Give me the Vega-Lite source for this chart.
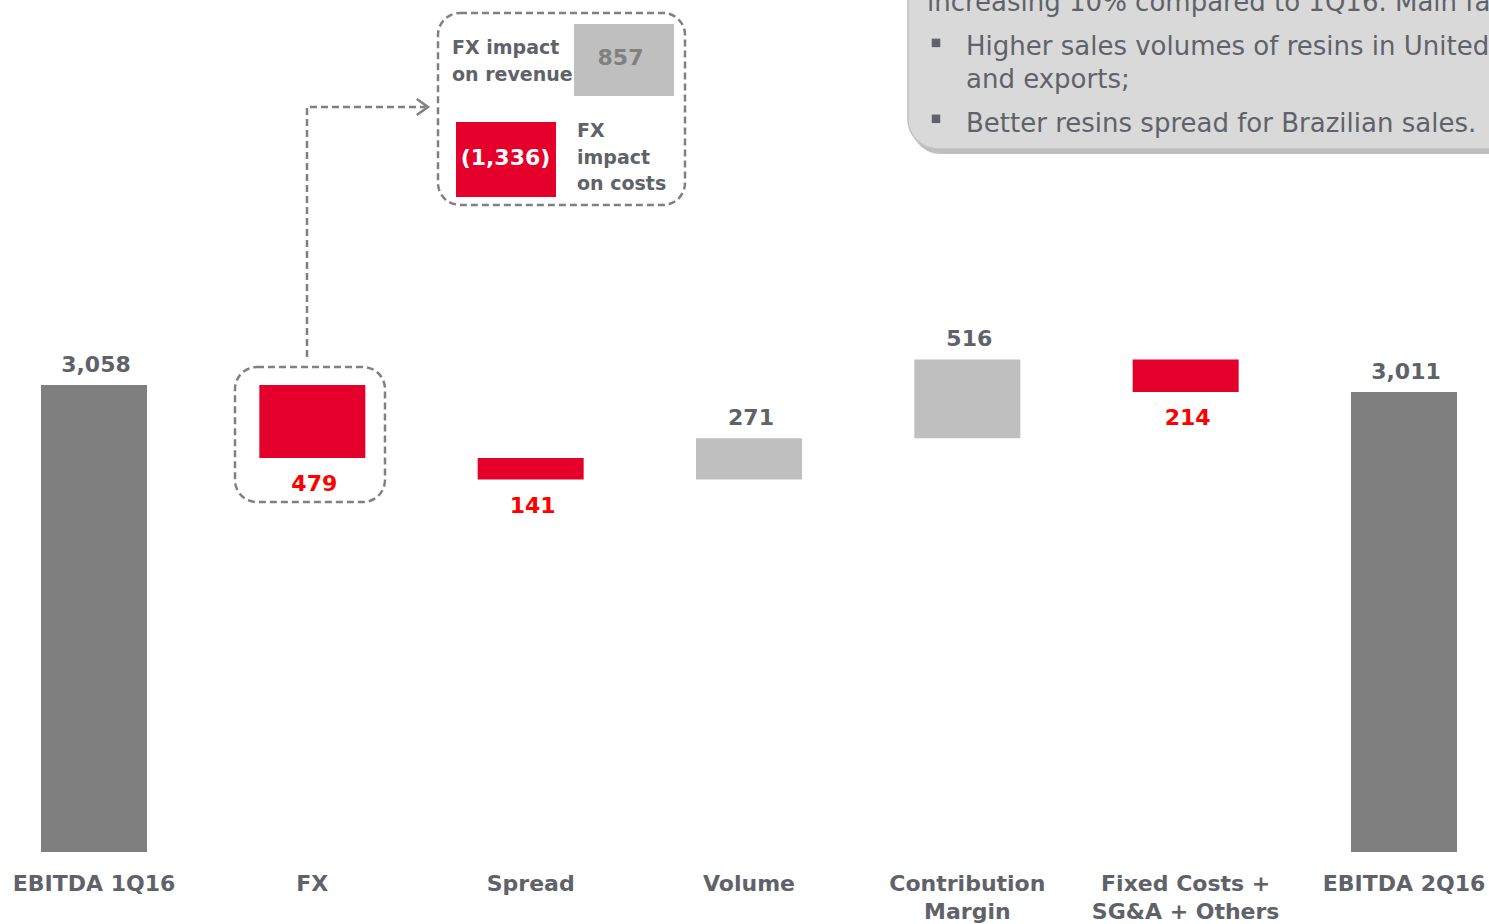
{
  "$schema": "https://vega.github.io/schema/vega-lite/v6.json",
  "width": 1489,
  "height": 852,
  "autosize": {"type": "none"},
  "padding": {"left": 0, "right": 0, "top": 0, "bottom": 72},
  "background": "white",
  "config": {"view": {"stroke": null}, "scale": {"continuousPadding": 0}},
  "datasets": {
    "bars": [
      {"i": 0, "cat": "EBITDA 1Q16", "start": 0, "end": 3058, "kind": "total", "label": "3,058"},
      {"i": 1, "cat": "FX", "start": 3058, "end": 2579, "kind": "down", "label": "479"},
      {"i": 2, "cat": "Spread", "start": 2579, "end": 2438, "kind": "down", "label": "141"},
      {"i": 3, "cat": "Volume", "start": 2438, "end": 2709, "kind": "up", "label": "271"},
      {"i": 4, "cat": "Contribution Margin", "start": 2709, "end": 3225, "kind": "up", "label": "516"},
      {"i": 5, "cat": "Fixed Costs + SG&A + Others", "start": 3225, "end": 3011, "kind": "down", "label": "214"},
      {"i": 6, "cat": "EBITDA 2Q16", "start": 0, "end": 3011, "kind": "total", "label": "3,011"}
    ],
    "cats": [
      {"i": 0, "lines": ["EBITDA 1Q16"]},
      {"i": 1, "lines": ["FX"]},
      {"i": 2, "lines": ["Spread"]},
      {"i": 3, "lines": ["Volume"]},
      {"i": 4, "lines": ["Contribution", "Margin"]},
      {"i": 5, "lines": ["Fixed Costs +", "SG&A + Others"]},
      {"i": 6, "lines": ["EBITDA 2Q16"]}
    ],
    "boxes": [
      {"role": "shadow", "x": 3.742, "x2": 7.5, "y": 4570, "y2": 6500},
      {"role": "note", "x": 3.728, "x2": 7.5, "y": 4603, "y2": 6500},
      {"role": "dashed", "x": 1.5756, "x2": 2.7069, "y": 4236, "y2": 5493},
      {"role": "dashed", "x": 0.6458, "x2": 1.3328, "y": 2291, "y2": 3175},
      {"role": "revenue", "x": 2.1985, "x2": 2.6565, "y": 4950, "y2": 5421},
      {"role": "costs", "x": 1.658, "x2": 2.116, "y": 4288, "y2": 4779}
    ],
    "connector": [
      {"o": 1, "x": 0.9756, "y": 3241},
      {"o": 2, "x": 0.9756, "y": 4878},
      {"o": 3, "x": 1.516, "y": 4878}
    ],
    "arrow": [{"x": 1.5298, "y": 4878}],
    "texts": [
      {"role": "callout", "x": 1.6397, "y": 5264, "text": "FX impact"},
      {"role": "callout", "x": 1.6397, "y": 5087, "text": "on revenue"},
      {"role": "callout", "x": 2.2122, "y": 4720, "text": "FX"},
      {"role": "callout", "x": 2.2122, "y": 4544, "text": "impact"},
      {"role": "callout", "x": 2.2122, "y": 4373, "text": "on costs"},
      {"role": "rev", "x": 2.4115, "y": 5198, "text": "857"},
      {"role": "cost", "x": 1.8847, "y": 4544, "text": "(1,336)"},
      {"role": "note", "x": 3.8153, "y": 5506, "text": "increasing 10% compared to 1Q16. Main factors:"},
      {"role": "note", "x": 3.9939, "y": 5218, "text": "Higher sales volumes of resins in United States"},
      {"role": "note", "x": 3.9939, "y": 5002, "text": "and exports;"},
      {"role": "note", "x": 3.9939, "y": 4714, "text": "Better resins spread for Brazilian sales."}
    ],
    "bullets": [
      {"x": 3.8565, "y": 5297},
      {"x": 3.8565, "y": 4800}
    ]
  },
  "layer": [
    {
      "data": {"name": "boxes"},
      "transform": [{"filter": "datum.role == 'shadow'"}],
      "mark": {"type": "rect", "fill": "#a8a8a8", "opacity": 0.75, "cornerRadius": 30},
      "encoding": {
        "x": {"field": "x", "type": "quantitative", "scale": {"domain": [-0.43053, 6.3893], "nice": false, "zero": false, "padding": 0}, "axis": null},
        "x2": {"field": "x2"},
        "y": {"field": "y", "type": "quantitative", "scale": {"domain": [0, 5578], "nice": false, "zero": false}, "axis": null},
        "y2": {"field": "y2"}
      }
    },
    {
      "data": {"name": "boxes"},
      "transform": [{"filter": "datum.role == 'note'"}],
      "mark": {"type": "rect", "fill": "#d9d9d9", "stroke": "#c2c2c2", "strokeWidth": 1.5, "cornerRadius": 30},
      "encoding": {
        "x": {"field": "x", "type": "quantitative", "scale": {"domain": [-0.43053, 6.3893], "nice": false, "zero": false, "padding": 0}, "axis": null},
        "x2": {"field": "x2"},
        "y": {"field": "y", "type": "quantitative", "scale": {"domain": [0, 5578], "nice": false, "zero": false}, "axis": null},
        "y2": {"field": "y2"}
      }
    },
    {
      "data": {"name": "bars"},
      "mark": {"type": "bar", "width": 106},
      "encoding": {
        "x": {"field": "i", "type": "quantitative", "scale": {"domain": [-0.43053, 6.3893], "nice": false, "zero": false, "padding": 0}, "axis": null},
        "y": {"field": "start", "type": "quantitative", "scale": {"domain": [0, 5578], "nice": false, "zero": false}, "axis": null},
        "y2": {"field": "end"},
        "color": {
          "field": "kind", "type": "nominal",
          "scale": {"domain": ["total", "up", "down"], "range": ["#7f7f7f", "#bfbfbf", "#e4002b"]},
          "legend": null
        }
      }
    },
    {
      "data": {"name": "cats"},
      "mark": {"type": "text", "font": "DejaVu Sans", "fontSize": 22, "fontWeight": "bold", "color": "#5f6369", "align": "center", "baseline": "top", "dy": 22, "lineHeight": 28},
      "encoding": {
        "x": {"field": "i", "type": "quantitative", "scale": {"domain": [-0.43053, 6.3893], "nice": false, "zero": false, "padding": 0}, "axis": null},
        "y": {"datum": 0, "type": "quantitative", "scale": {"domain": [0, 5578], "nice": false, "zero": false}, "axis": null},
        "text": {"field": "lines"}
      }
    },
    {
      "data": {"name": "boxes"},
      "transform": [{"filter": "datum.role == 'dashed'"}],
      "mark": {"type": "rect", "filled": false, "stroke": "#808080", "strokeWidth": 2.5, "strokeDash": [7, 4], "cornerRadius": 22},
      "encoding": {
        "x": {"field": "x", "type": "quantitative", "scale": {"domain": [-0.43053, 6.3893], "nice": false, "zero": false, "padding": 0}, "axis": null},
        "x2": {"field": "x2"},
        "y": {"field": "y", "type": "quantitative", "scale": {"domain": [0, 5578], "nice": false, "zero": false}, "axis": null},
        "y2": {"field": "y2"}
      }
    },
    {
      "data": {"name": "boxes"},
      "transform": [{"filter": "datum.role == 'revenue'"}],
      "mark": {"type": "rect", "fill": "#bfbfbf"},
      "encoding": {
        "x": {"field": "x", "type": "quantitative", "scale": {"domain": [-0.43053, 6.3893], "nice": false, "zero": false, "padding": 0}, "axis": null},
        "x2": {"field": "x2"},
        "y": {"field": "y", "type": "quantitative", "scale": {"domain": [0, 5578], "nice": false, "zero": false}, "axis": null},
        "y2": {"field": "y2"}
      }
    },
    {
      "data": {"name": "boxes"},
      "transform": [{"filter": "datum.role == 'costs'"}],
      "mark": {"type": "rect", "fill": "#e4002b"},
      "encoding": {
        "x": {"field": "x", "type": "quantitative", "scale": {"domain": [-0.43053, 6.3893], "nice": false, "zero": false, "padding": 0}, "axis": null},
        "x2": {"field": "x2"},
        "y": {"field": "y", "type": "quantitative", "scale": {"domain": [0, 5578], "nice": false, "zero": false}, "axis": null},
        "y2": {"field": "y2"}
      }
    },
    {
      "data": {"name": "connector"},
      "mark": {"type": "line", "stroke": "#808080", "strokeWidth": 2.5, "strokeDash": [7, 4], "interpolate": "linear"},
      "encoding": {
        "x": {"field": "x", "type": "quantitative", "scale": {"domain": [-0.43053, 6.3893], "nice": false, "zero": false, "padding": 0}, "axis": null},
        "y": {"field": "y", "type": "quantitative", "scale": {"domain": [0, 5578], "nice": false, "zero": false}, "axis": null},
        "order": {"field": "o", "type": "quantitative"}
      }
    },
    {
      "data": {"name": "arrow"},
      "mark": {"type": "point", "shape": "M-1.4,-1L0,0L-1.4,1", "filled": false, "stroke": "#808080", "strokeWidth": 2.5, "size": 256, "opacity": 1},
      "encoding": {
        "x": {"field": "x", "type": "quantitative", "scale": {"domain": [-0.43053, 6.3893], "nice": false, "zero": false, "padding": 0}, "axis": null},
        "y": {"field": "y", "type": "quantitative", "scale": {"domain": [0, 5578], "nice": false, "zero": false}, "axis": null}
      }
    },
    {
      "data": {"name": "bars"},
      "transform": [{"filter": "datum.kind != 'down'"}],
      "mark": {"type": "text", "font": "DejaVu Sans", "fontSize": 22, "fontWeight": "bold", "color": "#5f6369", "align": "center", "baseline": "middle", "dy": -20, "dx": 2},
      "encoding": {
        "x": {"field": "i", "type": "quantitative", "scale": {"domain": [-0.43053, 6.3893], "nice": false, "zero": false, "padding": 0}, "axis": null},
        "y": {"field": "end", "type": "quantitative", "scale": {"domain": [0, 5578], "nice": false, "zero": false}, "axis": null},
        "text": {"field": "label"}
      }
    },
    {
      "data": {"name": "bars"},
      "transform": [{"filter": "datum.kind == 'down'"}],
      "mark": {"type": "text", "font": "DejaVu Sans", "fontSize": 22, "fontWeight": "bold", "color": "#ff0000", "align": "center", "baseline": "middle", "dy": 26, "dx": 2},
      "encoding": {
        "x": {"field": "i", "type": "quantitative", "scale": {"domain": [-0.43053, 6.3893], "nice": false, "zero": false, "padding": 0}, "axis": null},
        "y": {"field": "end", "type": "quantitative", "scale": {"domain": [0, 5578], "nice": false, "zero": false}, "axis": null},
        "text": {"field": "label"}
      }
    },
    {
      "data": {"name": "texts"},
      "transform": [{"filter": "datum.role == 'callout'"}],
      "mark": {"type": "text", "font": "DejaVu Sans", "fontSize": 19, "fontWeight": "bold", "color": "#5f6369", "align": "left", "baseline": "middle"},
      "encoding": {
        "x": {"field": "x", "type": "quantitative", "scale": {"domain": [-0.43053, 6.3893], "nice": false, "zero": false, "padding": 0}, "axis": null},
        "y": {"field": "y", "type": "quantitative", "scale": {"domain": [0, 5578], "nice": false, "zero": false}, "axis": null},
        "text": {"field": "text"}
      }
    },
    {
      "data": {"name": "texts"},
      "transform": [{"filter": "datum.role == 'rev'"}],
      "mark": {"type": "text", "font": "DejaVu Sans", "fontSize": 22, "fontWeight": "bold", "color": "#808080", "align": "center", "baseline": "middle"},
      "encoding": {
        "x": {"field": "x", "type": "quantitative", "scale": {"domain": [-0.43053, 6.3893], "nice": false, "zero": false, "padding": 0}, "axis": null},
        "y": {"field": "y", "type": "quantitative", "scale": {"domain": [0, 5578], "nice": false, "zero": false}, "axis": null},
        "text": {"field": "text"}
      }
    },
    {
      "data": {"name": "texts"},
      "transform": [{"filter": "datum.role == 'cost'"}],
      "mark": {"type": "text", "font": "DejaVu Sans", "fontSize": 22, "fontWeight": "bold", "color": "#ffffff", "align": "center", "baseline": "middle"},
      "encoding": {
        "x": {"field": "x", "type": "quantitative", "scale": {"domain": [-0.43053, 6.3893], "nice": false, "zero": false, "padding": 0}, "axis": null},
        "y": {"field": "y", "type": "quantitative", "scale": {"domain": [0, 5578], "nice": false, "zero": false}, "axis": null},
        "text": {"field": "text"}
      }
    },
    {
      "data": {"name": "texts"},
      "transform": [{"filter": "datum.role == 'note'"}],
      "mark": {"type": "text", "font": "DejaVu Sans", "fontSize": 26, "color": "#5f6369", "align": "left", "baseline": "alphabetic"},
      "encoding": {
        "x": {"field": "x", "type": "quantitative", "scale": {"domain": [-0.43053, 6.3893], "nice": false, "zero": false, "padding": 0}, "axis": null},
        "y": {"field": "y", "type": "quantitative", "scale": {"domain": [0, 5578], "nice": false, "zero": false}, "axis": null},
        "text": {"field": "text"}
      }
    },
    {
      "data": {"name": "bullets"},
      "mark": {"type": "point", "shape": "square", "filled": true, "color": "#5f6369", "size": 72, "opacity": 1},
      "encoding": {
        "x": {"field": "x", "type": "quantitative", "scale": {"domain": [-0.43053, 6.3893], "nice": false, "zero": false, "padding": 0}, "axis": null},
        "y": {"field": "y", "type": "quantitative", "scale": {"domain": [0, 5578], "nice": false, "zero": false}, "axis": null}
      }
    }
  ]
}
